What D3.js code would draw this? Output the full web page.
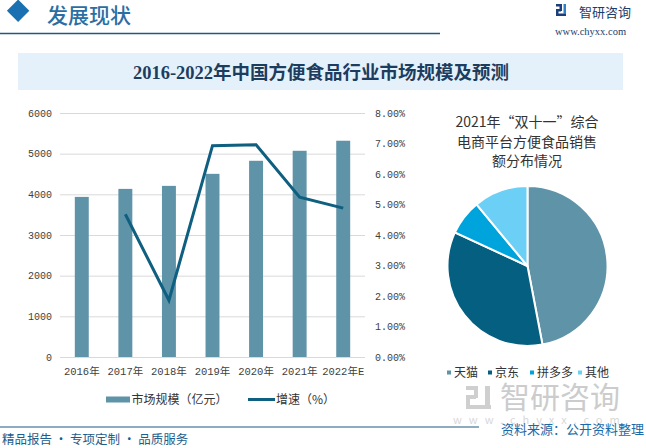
<!DOCTYPE html>
<html><head><meta charset="utf-8">
<script src="https://cdn.jsdelivr.net/npm/d3@7/dist/d3.min.js"></script>
<style>body{margin:0;background:#fff}svg{display:block}</style>
</head><body><svg id="c" width="646" height="448"></svg>
<script>
// ---- data ----
const years = ["2016年","2017年","2018年","2019年","2020年","2021年","2022年E"];
const marketSize = [3937,4134,4208,4504,4825,5071,5318];
const growthYears = ["2017年","2018年","2019年","2020年","2021年","2022年E"];
const growthRate = [4.68,1.86,6.93,6.96,5.24,4.88];
const leftTicks = [0,1000,2000,3000,4000,5000,6000];
const rightTicks = [0,1,2,3,4,5,6,7,8];
const platforms = ["天猫","京东","拼多多","其他"];
const platformShare = [47.0,34.9,7.1,11.0];
const pieColors = ["#5f93a8","#045f80","#00a4dc","#6ccff6"];

const CJK = "'Noto Sans CJK SC','Noto Sans',sans-serif";
const MONO = "'Liberation Mono','Noto Sans CJK SC',monospace";
const svg = d3.select("#c");

// ---- header ----
svg.append("rect").attr("x",19.5-11).attr("y",12.5-11).attr("width",22).attr("height",22)
  .attr("transform","rotate(45,19.5,12.5) translate(3.2,3.2) scale(0.72)").attr("fill","#1a70b0");
svg.append("text").attr("x",47).attr("y",22.5).attr("font-family",CJK).attr("font-size",21)
  .attr("font-weight",500).attr("fill","#2b6ea3").text("发展现状");
svg.append("line").attr("x1",0).attr("x2",440).attr("y1",33.5).attr("y2",33.5)
  .attr("stroke","#1c5a85").attr("stroke-width",1.5);
// logo icon
const ic = svg.append("g").attr("transform","translate(556,4)");
ic.append("rect").attr("x",0).attr("y",0).attr("width",6).attr("height",2.5).attr("fill","#1b3f7a");
ic.append("rect").attr("x",3.5).attr("y",0).attr("width",2.5).attr("height",7).attr("fill","#1b3f7a");
ic.append("rect").attr("x",0).attr("y",5).attr("width",5).attr("height",2.5).attr("fill","#1b3f7a");
ic.append("rect").attr("x",0).attr("y",5).attr("width",2.5).attr("height",7).attr("fill","#1b3f7a");
ic.append("rect").attr("x",0).attr("y",9.5).attr("width",10).attr("height",2.5).attr("fill","#1b3f7a");
ic.append("rect").attr("x",7.5).attr("y",0).attr("width",2.5).attr("height",10).attr("fill","#2f80c8");
svg.append("text").attr("x",579).attr("y",17).attr("font-family",CJK).attr("font-size",13)
  .attr("fill","#1b3c6c").text("智研咨询");
svg.append("text").attr("x",555).attr("y",35).attr("font-family","'Liberation Serif',serif").attr("font-size",10.5)
  .attr("fill","#1b3c6c").text("www.chyxx.com");

// ---- title band ----
svg.append("rect").attr("x",18).attr("y",53).attr("width",605).attr("height",37).attr("fill","#e5f1fa");
svg.append("text").attr("x",321).attr("y",78.5).attr("text-anchor","middle")
  .attr("font-family","'Liberation Serif','Noto Sans CJK SC',serif").attr("font-weight","bold")
  .attr("font-size",18.5).attr("fill","#1d3d5f").text("2016-2022年中国方便食品行业市场规模及预测");

// ---- bar + line chart ----
const x = d3.scaleBand().domain(years).range([60,365]).paddingInner(0.68).paddingOuter(0.34);
const yL = d3.scaleLinear().domain([0,6000]).range([357,113]);
const yR = d3.scaleLinear().domain([0,8]).range([357,113]);

svg.append("g").selectAll("line").data(leftTicks).join("line")
  .attr("x1",60).attr("x2",365).attr("y1",d=>yL(d)+0.5).attr("y2",d=>yL(d)+0.5)
  .attr("stroke","#d9d9d9").attr("stroke-width",1);

const axL = svg.append("g").attr("transform","translate(52,0)")
  .call(d3.axisLeft(yL).tickValues(leftTicks).tickSize(0).tickPadding(0).tickFormat(d3.format("d")));
axL.select(".domain").remove();
axL.selectAll("text").attr("font-family",MONO).attr("font-size",10).attr("fill","#404040");

const axR = svg.append("g").attr("transform","translate(375,0)")
  .call(d3.axisRight(yR).tickValues(rightTicks).tickSize(0).tickPadding(0).tickFormat(d=>d3.format(".2f")(d)+"%"));
axR.select(".domain").remove();
axR.selectAll("text").attr("font-family",MONO).attr("font-size",10).attr("fill","#404040");

const axB = svg.append("g").attr("transform","translate(0,357)")
  .call(d3.axisBottom(x).tickSize(0).tickPadding(11));
axB.select(".domain").remove();
axB.selectAll("text").attr("font-family",MONO).attr("font-size",10.5).attr("fill","#404040");

svg.append("g").selectAll("rect").data(marketSize).join("rect")
  .attr("x",(d,i)=>x(years[i])).attr("width",x.bandwidth())
  .attr("y",d=>yL(d)).attr("height",d=>yL(0)-yL(d)).attr("fill","#5f93a8");

const line = d3.line().x((d,i)=>x(growthYears[i])+x.bandwidth()/2).y(d=>yR(d));
svg.append("path").datum(growthRate).attr("d",line).attr("fill","none")
  .attr("stroke","#0f5f80").attr("stroke-width",3).attr("stroke-linejoin","miter");

// legend
svg.append("rect").attr("x",106).attr("y",396.5).attr("width",24).attr("height",6).attr("fill","#5f93a8");
svg.append("text").attr("x",131.5).attr("y",404).attr("font-family",CJK).attr("font-size",12)
  .attr("fill","#333").text("市场规模（亿元）");
svg.append("line").attr("x1",248).attr("x2",275).attr("y1",399.5).attr("y2",399.5)
  .attr("stroke","#0f5f80").attr("stroke-width",3);
svg.append("text").attr("x",276).attr("y",404).attr("font-family",CJK).attr("font-size",12)
  .attr("fill","#333").text("增速（%）");

// ---- pie ----
const ptitle = ["2021年“双十一”综合","电商平台方便食品销售","额分布情况"];
svg.append("g").selectAll("text").data(ptitle).join("text")
  .attr("x",527).attr("y",(d,i)=>127+i*19.5).attr("text-anchor","middle")
  .attr("font-family",CJK).attr("font-size",14).attr("fill","#333").text(d=>d);

const pie = d3.pie().sort(null).value(d=>d)(platformShare);
const arc = d3.arc().innerRadius(0).outerRadius(80);
svg.append("g").attr("transform","translate(527.5,266)").selectAll("path").data(pie).join("path")
  .attr("d",arc).attr("fill",(d,i)=>pieColors[i]).attr("stroke","#fff").attr("stroke-width",2);

const legX = [449,490,532,580];
const pl = svg.append("g").selectAll("g").data(platforms).join("g")
  .attr("transform",(d,i)=>`translate(${legX[i]},372.5)`);
pl.append("rect").attr("x",-2).attr("y",-2).attr("width",4).attr("height",4).attr("fill",(d,i)=>pieColors[i]);
pl.append("text").attr("x",5).attr("y",4.5).attr("font-family",CJK).attr("font-size",12)
  .attr("fill","#333").text(d=>d);

// ---- footer ----
const wm = svg.append("g").attr("fill","#cfcfcf");
wm.append("rect").attr("x",466).attr("y",386).attr("width",12).attr("height",4);
wm.append("rect").attr("x",474).attr("y",386).attr("width",4).attr("height",12);
wm.append("rect").attr("x",466).attr("y",395).attr("width",10).attr("height",4);
wm.append("rect").attr("x",466).attr("y",395).attr("width",4).attr("height",14);
wm.append("rect").attr("x",466).attr("y",405).attr("width",25).attr("height",4);
wm.append("rect").attr("x",485).attr("y",386).attr("width",5).attr("height",19);
wm.append("text").attr("x",500).attr("y",408).attr("font-family",CJK).attr("font-size",30)
  .attr("fill","#cccccc").text("智研咨询");
wm.append("text").attr("x",453).attr("y",424).attr("font-family",CJK).attr("font-size",11)
  .attr("letter-spacing",7).attr("fill","#d8d8d8").text("www.chyxx.com");

svg.append("line").attr("x1",0).attr("x2",479).attr("y1",427).attr("y2",427)
  .attr("stroke","#1c5a85").attr("stroke-width",1.2);
svg.append("text").attr("x",644).attr("y",433.5).attr("text-anchor","end").attr("font-family",CJK)
  .attr("font-size",13).attr("fill","#1b6aa8").text("资料来源：公开资料整理");
svg.append("text").attr("x",2).attr("y",444.3).attr("font-family",CJK)
  .attr("font-size",12.5).attr("fill","#1c5d8c").text("精品报告 · 专项定制 · 品质服务");
</script></body></html>
